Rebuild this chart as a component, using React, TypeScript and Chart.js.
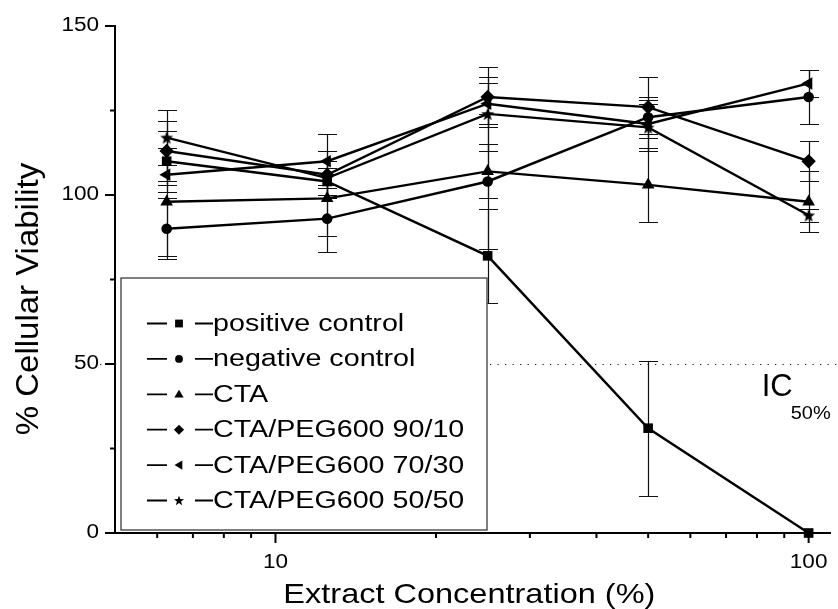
import React, { useEffect, useRef } from 'react';
import { Chart, registerables } from 'chart.js';

Chart.register(...registerables);

const FONT = '"Liberation Sans", Arial, Helvetica, sans-serif';

// ---- data ----
const concentrations = [6.25, 12.5, 25, 50, 100];

const positiveControl = [110, 104, 82, 31, 0];
const positiveControlErr = [9, 4, 14, 20, 0];
const negativeControl = [90, 93, 104, 123, 129];
const negativeControlErr = [9, 10, 20, 5, 8];
const cta = [98, 99, 107, 103, 98];
const ctaErr = [16, 11, 8, 11, 9];
const peg9010 = [113, 106, 129, 126, 110];
const peg9010Err = [9, 7, 9, 9, 6];
const peg7030 = [106, 110, 127, 121, 133];
const peg7030Err = [3, 8, 6, 8, 4];
const peg5050 = [117, 105, 124, 120, 94];
const peg5050Err = [8, 5, 11, 7, 2];

const seriesLabels = [
  'positive control',
  'negative control',
  'CTA',
  'CTA/PEG600 90/10',
  'CTA/PEG600 70/30',
  'CTA/PEG600 50/50',
];
const seriesValues = [positiveControl, negativeControl, cta, peg9010, peg7030, peg5050];
const seriesErrors = [positiveControlErr, negativeControlErr, ctaErr, peg9010Err, peg7030Err, peg5050Err];
const seriesMarkers = ['rect', 'circle', 'triangle', 'rectRot', 'triangleLeft', 'star'];

const yMajorTicks = [0, 50, 100, 150];
const yMinorTicks = [25, 75, 125];
const xMajorTicks = [10, 100];
const xMinorTicks = [6, 7, 8, 9, 20, 30, 40, 50, 60, 70, 80, 90];
const xTickLabels = ['10', '100'];
const yTickLabels = ['0', '50', '100', '150'];

const ic50Level = 50;
const xTitle = 'Extract Concentration (%)';
const yTitle = '% Cellular Viability';

// ---- helpers ----
function starPath(ctx: CanvasRenderingContext2D, cx: number, cy: number, R: number, r: number) {
  ctx.beginPath();
  for (let i = 0; i < 10; i++) {
    const ang = -Math.PI / 2 + (i * Math.PI) / 5;
    const rad = i % 2 === 0 ? R : r;
    const px = cx + Math.cos(ang) * rad;
    const py = cy + Math.sin(ang) * rad;
    if (i === 0) ctx.moveTo(px, py);
    else ctx.lineTo(px, py);
  }
  ctx.closePath();
}

function makeStarCanvas(R: number) {
  const c = document.createElement('canvas');
  const s = Math.ceil(R * 2 + 2);
  c.width = s;
  c.height = s;
  const g = c.getContext('2d')!;
  g.fillStyle = '#000';
  starPath(g, s / 2, s / 2 + R * 0.1, R, R * 0.42);
  g.fill();
  return c;
}

function drawMarker(ctx: CanvasRenderingContext2D, style: string, x: number, y: number, r: number) {
  ctx.save();
  ctx.fillStyle = '#000';
  ctx.beginPath();
  if (style === 'rect') {
    ctx.rect(x - r, y - r, 2 * r, 2 * r);
  } else if (style === 'circle') {
    ctx.arc(x, y, r, 0, Math.PI * 2);
  } else if (style === 'triangle') {
    ctx.moveTo(x, y - r * 1.15);
    ctx.lineTo(x + r * 1.2, y + r * 0.85);
    ctx.lineTo(x - r * 1.2, y + r * 0.85);
    ctx.closePath();
  } else if (style === 'triangleLeft') {
    ctx.moveTo(x - r * 1.15, y);
    ctx.lineTo(x + r * 0.85, y - r * 1.2);
    ctx.lineTo(x + r * 0.85, y + r * 1.2);
    ctx.closePath();
  } else if (style === 'rectRot') {
    const d = r * 1.3;
    ctx.moveTo(x, y - d);
    ctx.lineTo(x + d, y);
    ctx.lineTo(x, y + d);
    ctx.lineTo(x - d, y);
    ctx.closePath();
  } else if (style === 'star') {
    starPath(ctx, x, y + r * 0.1, r * 1.35, r * 1.35 * 0.42);
  }
  ctx.fill();
  ctx.restore();
}

function drawText(
  ctx: CanvasRenderingContext2D,
  text: string,
  x: number,
  y: number,
  size: number,
  sx: number,
  align: CanvasTextAlign,
  baseline: CanvasTextBaseline,
  rotation = 0
) {
  ctx.save();
  ctx.translate(x, y);
  if (rotation) ctx.rotate(rotation);
  ctx.scale(sx, 1);
  ctx.font = `${size}px ${FONT}`;
  ctx.textAlign = align;
  ctx.textBaseline = baseline;
  ctx.fillStyle = '#000';
  ctx.fillText(text, 0, 0);
  ctx.restore();
}

const decorPlugin = {
  id: 'decor',
  beforeDatasetsDraw(chart: any) {
    const { ctx, chartArea } = chart;
    const xs = chart.scales.x;
    const ys = chart.scales.y;
    // IC50 dotted reference line
    ctx.save();
    ctx.strokeStyle = '#222';
    ctx.lineWidth = 1.2;
    ctx.setLineDash([1.3, 6.2]);
    const yy = Math.round(ys.getPixelForValue(ic50Level)) + 0.5;
    ctx.beginPath();
    ctx.moveTo(chartArea.left - 15, yy);
    ctx.lineTo(chart.width, yy);
    ctx.stroke();
    ctx.restore();

    // error bars
    ctx.save();
    ctx.strokeStyle = '#111';
    ctx.lineWidth = 1.2;
    seriesValues.forEach((vals, si) => {
      vals.forEach((v, j) => {
        const e = seriesErrors[si][j];
        if (!e) return;
        const px = Math.round(xs.getPixelForValue(concentrations[j])) + 0.5;
        const top = Math.round(ys.getPixelForValue(v + e)) + 0.5;
        const bot = Math.round(ys.getPixelForValue(v - e)) + 0.5;
        ctx.beginPath();
        ctx.moveTo(px, top);
        ctx.lineTo(px, bot);
        ctx.moveTo(px - 9.5, top);
        ctx.lineTo(px + 9.5, top);
        ctx.moveTo(px - 9.5, bot);
        ctx.lineTo(px + 9.5, bot);
        ctx.stroke();
      });
    });
    ctx.restore();
  },
  afterDatasetsDraw(chart: any) {
    const { ctx, chartArea } = chart;
    const xs = chart.scales.x;
    const ys = chart.scales.y;
    const { left, right, bottom } = chartArea;

    // legend box
    const L = left + 6;
    const T = bottom - 255;
    const W = 366;
    const H = 252;
    ctx.save();
    ctx.fillStyle = '#fff';
    ctx.fillRect(L, T, W, H);
    ctx.strokeStyle = '#555';
    ctx.lineWidth = 1.5;
    ctx.strokeRect(L, T, W, H);
    ctx.restore();

    seriesLabels.forEach((label, i) => {
      const cy = T + 45.5 + i * 35.4;
      ctx.save();
      ctx.strokeStyle = '#000';
      ctx.lineWidth = 1.8;
      ctx.beginPath();
      ctx.moveTo(L + 26, cy);
      ctx.lineTo(L + 46, cy);
      ctx.moveTo(L + 74, cy);
      ctx.lineTo(L + 92, cy);
      ctx.stroke();
      ctx.restore();
      drawMarker(ctx, seriesMarkers[i], L + 58, cy, 3.9);
      drawText(ctx, label, L + 92, cy + 7.5, 23.5, 1.22, 'left', 'alphabetic');
    });

    // axis ticks
    ctx.save();
    ctx.strokeStyle = '#000';
    ctx.lineWidth = 2;
    ctx.beginPath();
    yMajorTicks.forEach((v) => {
      const py = ys.getPixelForValue(v);
      ctx.moveTo(left - 10, py);
      ctx.lineTo(left, py);
    });
    yMinorTicks.forEach((v) => {
      const py = ys.getPixelForValue(v);
      ctx.moveTo(left - 5, py);
      ctx.lineTo(left, py);
    });
    xMajorTicks.forEach((v) => {
      const px = xs.getPixelForValue(v);
      ctx.moveTo(px, bottom);
      ctx.lineTo(px, bottom + 10);
    });
    xMinorTicks.forEach((v) => {
      const px = xs.getPixelForValue(v);
      ctx.moveTo(px, bottom);
      ctx.lineTo(px, bottom + 5);
    });
    ctx.stroke();
    ctx.restore();

    // tick labels
    yMajorTicks.forEach((v, i) => {
      drawText(ctx, yTickLabels[i], left - 16, ys.getPixelForValue(v) - 0.5, 20.5, 1.1, 'right', 'middle');
    });
    xMajorTicks.forEach((v, i) => {
      drawText(ctx, xTickLabels[i], xs.getPixelForValue(v), bottom + 34.5, 20.5, 1.1, 'center', 'alphabetic');
    });

    // axis titles
    drawText(ctx, xTitle, (left + right) / 2 - 3.5, bottom + 70, 28.5, 1.14, 'center', 'alphabetic');
    drawText(ctx, yTitle, 38, 299, 32, 1.03, 'center', 'alphabetic', -Math.PI / 2);

    // IC50 label
    const icY = ys.getPixelForValue(ic50Level);
    drawText(ctx, 'IC', right - 69, icY + 32, 31, 1.0, 'left', 'alphabetic');
    drawText(ctx, '50%', right - 40, icY + 54.5, 19, 1.05, 'left', 'alphabetic');
  },
};

export default function App() {
  const canvasRef = useRef<HTMLCanvasElement | null>(null);

  useEffect(() => {
    const canvas = canvasRef.current;
    if (!canvas) return;
    const starBig = makeStarCanvas(6.8);

    const styleFor = (m: string): any => {
      if (m === 'star') return { pointStyle: starBig, pointRadius: 7, pointRotation: 0 };
      if (m === 'rect') return { pointStyle: 'rect', pointRadius: 6.8, pointRotation: 0 };
      if (m === 'circle') return { pointStyle: 'circle', pointRadius: 5.3, pointRotation: 0 };
      if (m === 'triangle') return { pointStyle: 'triangle', pointRadius: 7.3, pointRotation: 0 };
      if (m === 'triangleLeft') return { pointStyle: 'triangle', pointRadius: 7.3, pointRotation: -90 };
      return { pointStyle: 'rectRot', pointRadius: 7.2, pointRotation: 0 };
    };

    const datasets = seriesLabels.map((label, i) => ({
      label,
      data: seriesValues[i].map((v, j) => ({ x: concentrations[j], y: v })),
      borderColor: '#000',
      backgroundColor: '#000',
      pointBackgroundColor: '#000',
      pointBorderColor: '#000',
      pointBorderWidth: 0,
      borderWidth: 2.4,
      tension: 0,
      clip: false as any,
      ...styleFor(seriesMarkers[i]),
    }));

    const chart = new Chart(canvas, {
      type: 'line',
      data: { datasets },
      options: {
        animation: false,
        responsive: false,
        devicePixelRatio: 1,
        layout: { padding: { top: 26, right: 1, left: 0, bottom: 0 } },
        plugins: {
          legend: { display: false },
          tooltip: { enabled: false },
          title: { display: false },
        },
        scales: {
          x: {
            type: 'logarithmic',
            position: 'bottom',
            min: 5,
            max: 110,
            grid: { display: false, drawTicks: false },
            border: { display: true, color: '#000', width: 2 },
            ticks: { display: false },
            afterFit: (s: any) => {
              s.height = 76;
            },
          },
          y: {
            type: 'linear',
            position: 'left',
            min: 0,
            max: 150,
            grid: { display: false, drawTicks: false },
            border: { display: true, color: '#000', width: 2 },
            ticks: { display: false },
            afterFit: (s: any) => {
              s.width = 115;
            },
          },
        },
      },
      plugins: [decorPlugin],
    });

    return () => {
      chart.destroy();
    };
  }, []);

  return (
    <div style={{ position: 'absolute', left: 0, top: 0, width: 838, height: 609, background: '#fff' }}>
      <canvas ref={canvasRef} width={838} height={609} style={{ display: 'block', width: 838, height: 609 }} />
    </div>
  );
}
